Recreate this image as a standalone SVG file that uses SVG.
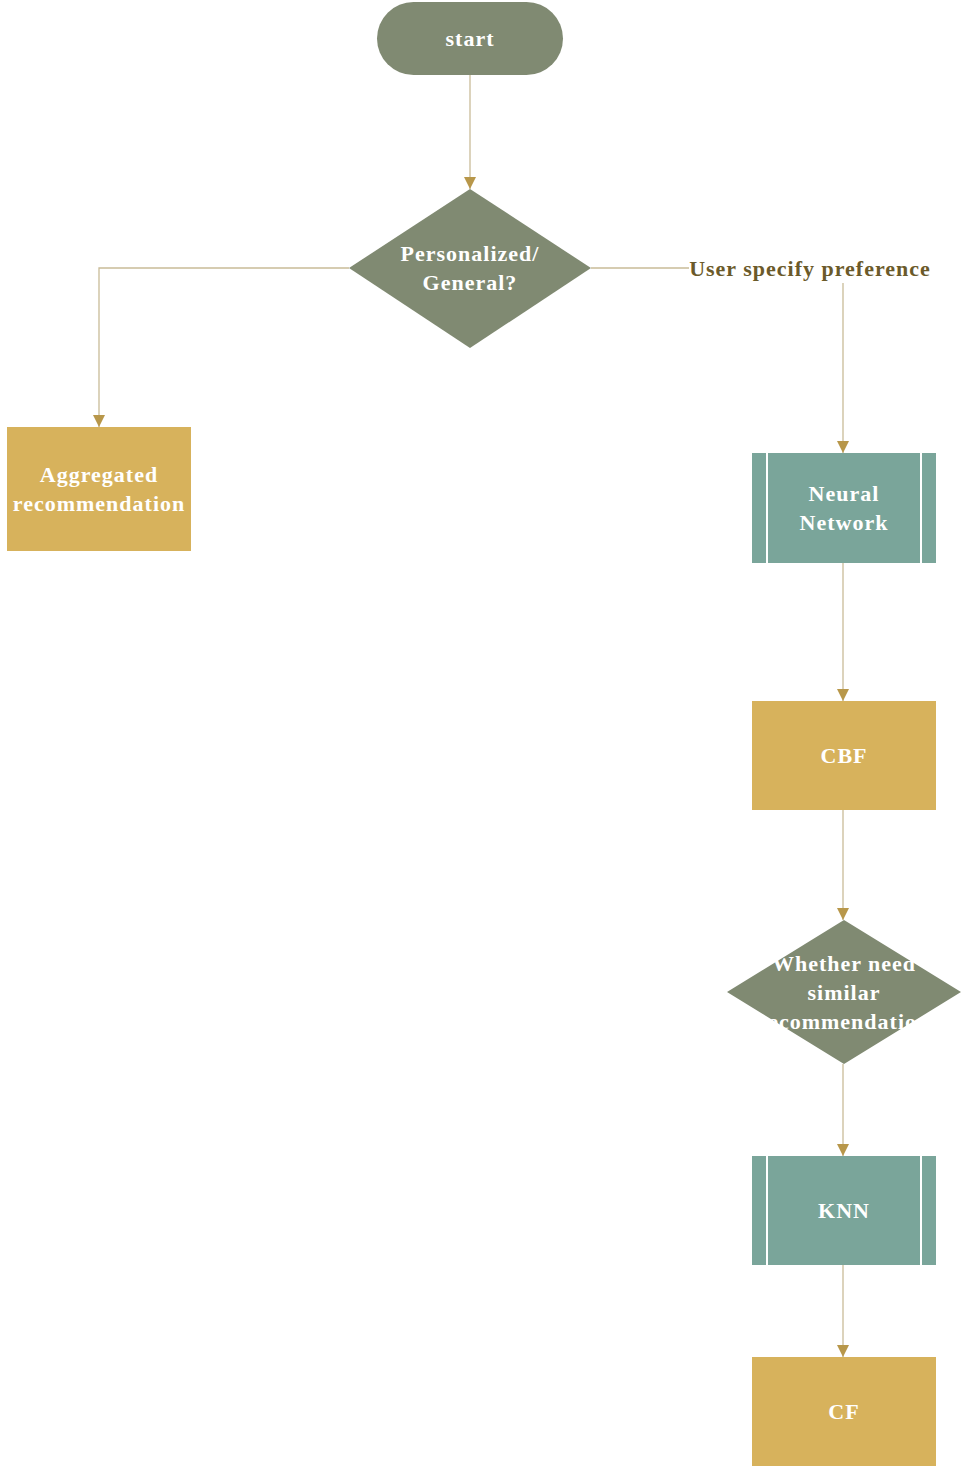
<svg xmlns="http://www.w3.org/2000/svg" width="963" height="1470" viewBox="0 0 963 1470">
<style>
.t{font-family:"Liberation Serif","Times New Roman",serif;font-weight:bold;font-size:22px;letter-spacing:1px;fill:#ffffff;text-anchor:middle;dominant-baseline:central}
.lbl{font-family:"Liberation Serif","Times New Roman",serif;font-weight:bold;font-size:22px;letter-spacing:1px;fill:#6b5a2a;text-anchor:middle;dominant-baseline:central}
.c{fill:none;stroke:#c9bc98;stroke-width:1.3}
.gray{fill:#808a72}
.gold{fill:#d7b25c}
.teal{fill:#7aa59a}
.bar{stroke:#ffffff;stroke-width:2}
</style>
<defs>
<marker id="ah" markerWidth="12" markerHeight="12" refX="10" refY="5" orient="auto" markerUnits="userSpaceOnUse" viewBox="0 0 10 10">
<path d="M0,0 L10,5 L0,10 z" fill="#b8974a"/>
</marker>
</defs>
<g id="connectors">
<path class="c" d="M470,75 L470,189" marker-end="url(#ah)"/>
<path class="c" d="M349,268 L99,268 L99,427" marker-end="url(#ah)"/>
<path class="c" d="M591,268 L843,268 L843,453" marker-end="url(#ah)"/>
<rect x="689" y="254" width="244" height="29" fill="#ffffff"/>
<text class="lbl" x="810" y="268">User specify preference</text>
<path class="c" d="M843,563 L843,701" marker-end="url(#ah)"/>
<path class="c" d="M843,810 L843,920" marker-end="url(#ah)"/>
<path class="c" d="M843,1064 L843,1156" marker-end="url(#ah)"/>
<path class="c" d="M843,1265 L843,1357" marker-end="url(#ah)"/>
</g>
<g id="start">
<rect class="gray" x="377" y="2" width="186" height="73" rx="36.5"/>
<text class="t" x="470" y="38">start</text>
</g>
<g id="decision1">
<polygon class="gray" points="470,189 591,268 470,348 349,268"/>
<text class="t" x="470" y="253">Personalized/</text>
<text class="t" x="470" y="282">General?</text>
</g>
<g id="aggregated">
<rect class="gold" x="7" y="427" width="184" height="124"/>
<text class="t" x="99" y="474">Aggregated</text>
<text class="t" x="99" y="503">recommendation</text>
</g>
<g id="neural">
<rect class="teal" x="752" y="453" width="184" height="110"/>
<line class="bar" x1="767" y1="453" x2="767" y2="563"/>
<line class="bar" x1="921" y1="453" x2="921" y2="563"/>
<text class="t" x="844" y="493">Neural</text>
<text class="t" x="844" y="522">Network</text>
</g>
<g id="cbf">
<rect class="gold" x="752" y="701" width="184" height="109"/>
<text class="t" x="844" y="755">CBF</text>
</g>
<g id="decision2">
<polygon class="gray" points="844,920 961,992 844,1064 727,992"/>
<text class="t" x="844" y="963">Whether need</text>
<text class="t" x="844" y="992">similar</text>
<text class="t" x="844" y="1021">recommendation</text>
</g>
<g id="knn">
<rect class="teal" x="752" y="1156" width="184" height="109"/>
<line class="bar" x1="767" y1="1156" x2="767" y2="1265"/>
<line class="bar" x1="921" y1="1156" x2="921" y2="1265"/>
<text class="t" x="844" y="1210">KNN</text>
</g>
<g id="cf">
<rect class="gold" x="752" y="1357" width="184" height="109"/>
<text class="t" x="844" y="1411">CF</text>
</g>
</svg>
